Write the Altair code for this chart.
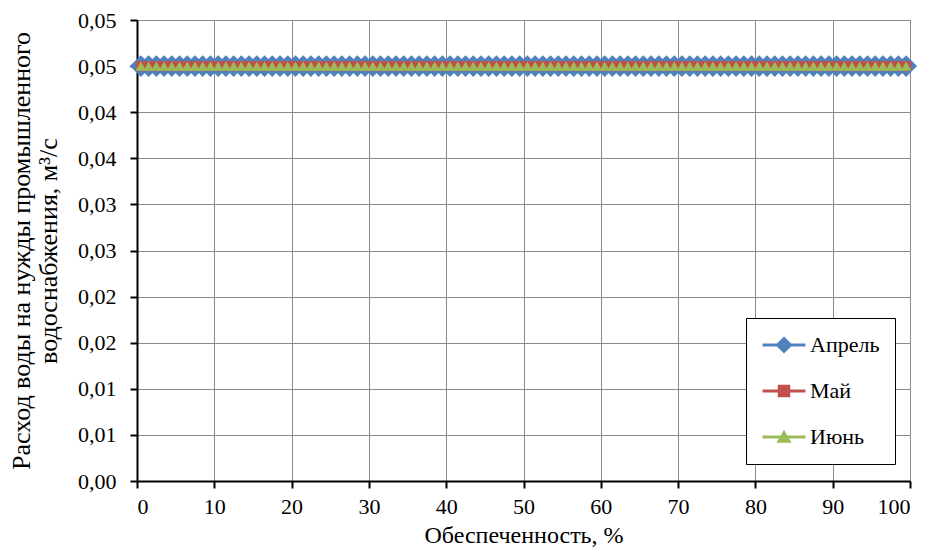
import altair as alt
import numpy as np
import pandas as pd

# ---- data ----
months = ["Апрель", "Май", "Июнь"]
colors = ["#4F81BD", "#C0504D", "#9BBB59"]
pct = list(np.arange(0.5, 100.0, 1.0))          # обеспеченность, %
q_apr = [0.045] * len(pct)
q_may = [0.045] * len(pct)
q_jun = [0.045] * len(pct)
x_ticks = [0, 10, 20, 30, 40, 50, 60, 70, 80, 90, 100]
y_ticks = [0, 0.005, 0.01, 0.015, 0.02, 0.025, 0.03, 0.035, 0.04, 0.045, 0.05]

rows = []
for m, vals in zip(months, [q_apr, q_may, q_jun]):
    for p, v in zip(pct, vals):
        rows.append({"p": p, "q": v, "month": m})
df = pd.DataFrame(rows)

FONT = "Liberation Serif"
TOP = 12
PLOT_H = 461

x_enc = alt.X("p:Q", scale=alt.Scale(domain=[0, 100], nice=False),
              axis=alt.Axis(values=x_ticks, title="Обеспеченность, %", titlePadding=6,
                            titleFontSize=24, labelPadding=8))
y_enc = alt.Y("q:Q", scale=alt.Scale(domain=[0, 0.05], nice=False),
              axis=alt.Axis(values=y_ticks,
                            labelExpr="replace(format(datum.value + 0.0001, '.2f'), '.', ',')",
                            title=["Расход воды на нужды промышленного", "водоснабжения, м³/с"],
                            titlePadding=16, titleLineHeight=27, titleFontSize=26,
                            labelPadding=14))

leg_kw = dict(orient="none", legendX=609, legendY=318 - 8 - TOP, title=None,
              padding=15, strokeColor="black", fillColor="white",
              symbolSize=1849, symbolStrokeWidth=3, symbolOpacity=1,
              clipHeight=24,
              labelFont=FONT, labelFontSize=22, labelColor="black",
              labelOffset=3, rowPadding=22,
              labelExpr="datum.label + '\u00a0'")
try:
    alt.Legend(strokeWidth=1.5, **leg_kw).to_dict()
    legend = alt.Legend(strokeWidth=1.5, **leg_kw)
except Exception:
    legend = alt.Legend(**leg_kw)

cscale = alt.Scale(domain=months, range=colors)
col = alt.Color("month:N", scale=cscale, legend=legend)

base = alt.Chart(df)
lines = base.mark_line(strokeWidth=3).encode(x=x_enc, y=y_enc, color=col, detail="month:N")

pts_apr = base.transform_filter(alt.datum.month == "Апрель").mark_point(
    shape="diamond", filled=True, size=480, opacity=1).encode(x="p:Q", y="q:Q", color=col)
pts_may = base.transform_filter(alt.datum.month == "Май").mark_point(
    shape="square", filled=True, size=100, opacity=1).encode(x="p:Q", y="q:Q", color=col)
pts_jun = base.transform_filter(alt.datum.month == "Июнь").mark_point(
    shape="triangle-up", filled=True, size=110, opacity=1).encode(x="p:Q", y="q:Q", color=col)

# legend symbols: line segment with the series marker
leg_paths = [
    "M-1,0L1,0M0,-0.3L0.3,0L0,0.3L-0.3,0Z",
    "M-1,0L1,0M-0.22,-0.22L0.22,-0.22L0.22,0.22L-0.22,0.22Z",
    "M-1,0L1,0M0,-0.2L0.23,0.2L-0.23,0.2Z",
]
leg_layer = base.transform_filter("datum.q < 0").mark_point(filled=True).encode(
    x="p:Q", y="q:Q",
    fill=alt.Fill("month:N", scale=cscale, legend=legend),
    stroke=alt.Stroke("month:N", scale=cscale, legend=legend),
    shape=alt.Shape("month:N", scale=alt.Scale(domain=months, range=leg_paths), legend=legend),
)

chart = alt.layer(lines, pts_apr, pts_may, pts_jun, leg_layer).properties(
    width=773, height=PLOT_H,
    background="white",
    autosize=alt.AutoSizeParams(type="none"),
    padding={"left": 129, "top": TOP, "right": 16, "bottom": 542 - TOP - PLOT_H},
).configure_view(stroke="#8a8a8a", strokeWidth=1).configure_axis(
    grid=True, gridColor="#8a8a8a", gridWidth=1,
    domainColor="black", domainWidth=2,
    tickColor="black", tickWidth=2, tickSize=7,
    labelFont=FONT, labelFontSize=22, labelColor="black",
    titleFont=FONT, titleFontWeight="normal", titleColor="black",
)

chart.save("out.html", embed_options={"renderer": "svg", "actions": False})
